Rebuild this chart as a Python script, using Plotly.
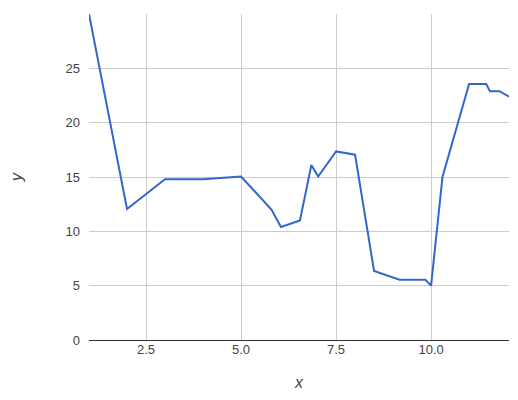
import plotly.graph_objects as go

xs = [1, 2, 3, 4, 5, 5.8, 6.05, 6.55, 6.85, 7.03, 7.5, 8, 8.5, 9.17, 9.85, 10, 10.3, 11, 11.45, 11.55, 11.8, 12.05]
ys = [30, 12.05, 14.8, 14.8, 15.05, 12, 10.4, 11, 16.1, 15.05, 17.35, 17.05, 6.35, 5.55, 5.55, 5, 15, 23.55, 23.55, 22.9, 22.9, 22.4]

fig = go.Figure(go.Scatter(x=xs, y=ys, mode="lines", line=dict(color="#3366cc", width=2)))

font = dict(family="Liberation Sans, Arial", size=13, color="#444")
fig.update_layout(
    width=518, height=400, plot_bgcolor="white", paper_bgcolor="white",
    margin=dict(l=74, r=17, t=6, b=68), showlegend=False, font=font,
)
fig.update_xaxes(range=[1, 12.05], tickvals=[2.5, 5, 7.5, 10], ticktext=["2.5", "5.0", "7.5", "10.0"],
                 showgrid=True, gridcolor="#cccccc", zeroline=False, showline=False,
                 title=dict(text="<i>x</i>", standoff=20))
fig.update_yaxes(range=[0, 30], dtick=5, showgrid=True, gridcolor="#cccccc",
                 zeroline=True, zerolinecolor="#333", zerolinewidth=1,
                 title=dict(text="<i>y</i>", standoff=40), ticklabelstandoff=8)
fig.write_html("out.html")
